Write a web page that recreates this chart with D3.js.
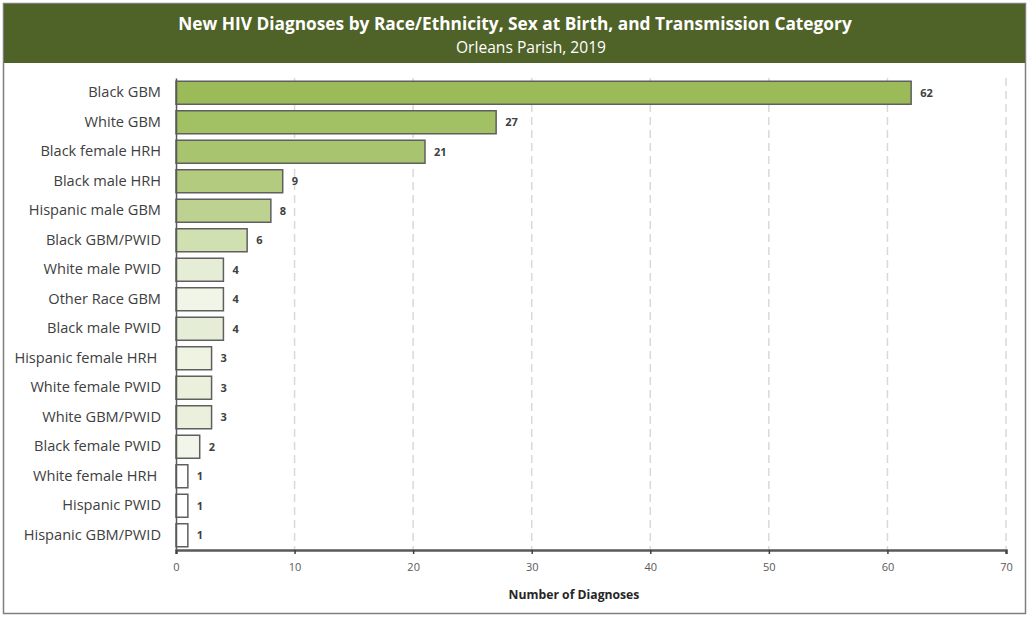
<!DOCTYPE html>
<html>
<head>
<meta charset="utf-8">
<script src="https://cdn.jsdelivr.net/npm/d3@7"></script>
<style>
  html, body { margin: 0; padding: 0; background: #fff; }
  svg { display: block; }
</style>
</head>
<body>
<svg id="chart" width="1029" height="617"></svg>
<script>
// Groups, counts and bar fills (top to bottom)
const categories = [
  "Black GBM", "White GBM", "Black female HRH", "Black male HRH",
  "Hispanic male GBM", "Black GBM/PWID", "White male PWID", "Other Race GBM",
  "Black male PWID", "Hispanic female HRH ", "White female PWID", "White GBM/PWID",
  "Black female PWID", "White female HRH ", "Hispanic PWID", "Hispanic GBM/PWID"
];
const values = [62, 27, 21, 9, 8, 6, 4, 4, 4, 3, 3, 3, 2, 1, 1, 1];
const fills = [
  "#9bbb59", "#a2c064", "#a8c46e", "#b3cb7f", "#bdd290", "#d1e0b0",
  "#e6edd6", "#f1f5e8", "#e6edd6", "#eef3e2", "#eaf0dc", "#eaf0dc",
  "#f2f6ea", "#ffffff", "#ffffff", "#ffffff"
];
const xTicks = [0, 10, 20, 30, 40, 50, 60, 70];
const title = "New HIV Diagnoses by Race/Ethnicity, Sex at Birth, and Transmission Category";
const subtitle = "Orleans Parish, 2019";
const xTitle = "Number of Diagnoses";

const W = 1029, H = 617;
const svg = d3.select("#chart");
const font = "'Open Sans', 'DejaVu Sans', sans-serif";

// outer frame
svg.append("rect")
  .attr("x", 3.5).attr("y", 3.5).attr("width", W - 7).attr("height", H - 7)
  .attr("fill", "#fff").attr("stroke", "#7f7f7f").attr("stroke-width", 1.5);

// header band
svg.append("rect")
  .attr("x", 4).attr("y", 4).attr("width", W - 8).attr("height", 59)
  .attr("fill", "#4f6228");
svg.append("text")
  .attr("x", 515).attr("y", 30)
  .attr("text-anchor", "middle")
  .attr("font-family", font).attr("font-weight", "bold").attr("font-size", 17.3)
  .attr("fill", "#ffffff")
  .text(title);
svg.append("text")
  .attr("x", 531).attr("y", 53)
  .attr("text-anchor", "middle")
  .attr("font-family", font).attr("font-size", 15.6)
  .attr("fill", "#ffffff")
  .text(subtitle);

const x0 = 176, x1 = 1006, yTop = 78, yBot = 550;
const x = d3.scaleLinear().domain([0, 70]).range([x0, x1]);
const y = d3.scaleBand().domain(categories).range([yTop, yBot]).paddingInner(0.22).paddingOuter(0.11);

// dashed gridlines
svg.append("g")
  .selectAll("line")
  .data(xTicks.filter(d => d > 0))
  .join("line")
  .attr("x1", d => x(d)).attr("x2", d => x(d))
  .attr("y1", yTop).attr("y2", yBot)
  .attr("stroke", "#d9d9d9").attr("stroke-width", 1.5)
  .attr("stroke-dasharray", "8,5");

// bars
svg.append("g")
  .selectAll("rect")
  .data(values)
  .join("rect")
  .attr("x", x(0))
  .attr("y", (d, i) => y(categories[i]))
  .attr("width", d => x(d) - x(0))
  .attr("height", y.bandwidth())
  .attr("fill", (d, i) => fills[i])
  .attr("stroke", "#5f5f5f").attr("stroke-width", 1.5);

// value labels
svg.append("g")
  .selectAll("text")
  .data(values)
  .join("text")
  .attr("x", d => x(d) + 9)
  .attr("y", (d, i) => y(categories[i]) + y.bandwidth() / 2)
  .attr("dy", "0.35em")
  .attr("font-family", font).attr("font-weight", "bold").attr("font-size", 11)
  .attr("fill", "#404040")
  .text(d => d);

// x axis
const xAxis = svg.append("g")
  .attr("transform", `translate(0,${yBot})`)
  .call(d3.axisBottom(x).tickValues(xTicks).tickSize(4).tickPadding(9));
xAxis.select(".domain").attr("stroke", "#595959").attr("stroke-width", 2.5);
xAxis.selectAll(".tick line").attr("stroke", "#404040").attr("stroke-width", 1.5);
xAxis.selectAll(".tick text")
  .attr("font-family", font).attr("font-size", 11).attr("fill", "#595959");

// y axis
const yAxis = svg.append("g")
  .attr("transform", `translate(${x0},0)`)
  .call(d3.axisLeft(y).tickSize(0).tickPadding(15));
yAxis.select(".domain").attr("stroke", "#595959").attr("stroke-width", 1.5);
yAxis.selectAll(".tick text")
  .style("white-space", "pre")
  .attr("font-family", font).attr("font-size", 14.6).attr("fill", "#404040");

// axis title
svg.append("text")
  .attr("x", 574).attr("y", 599)
  .attr("text-anchor", "middle")
  .attr("font-family", font).attr("font-weight", "bold").attr("font-size", 12.2)
  .attr("fill", "#262626")
  .text(xTitle);
</script>
</body>
</html>
